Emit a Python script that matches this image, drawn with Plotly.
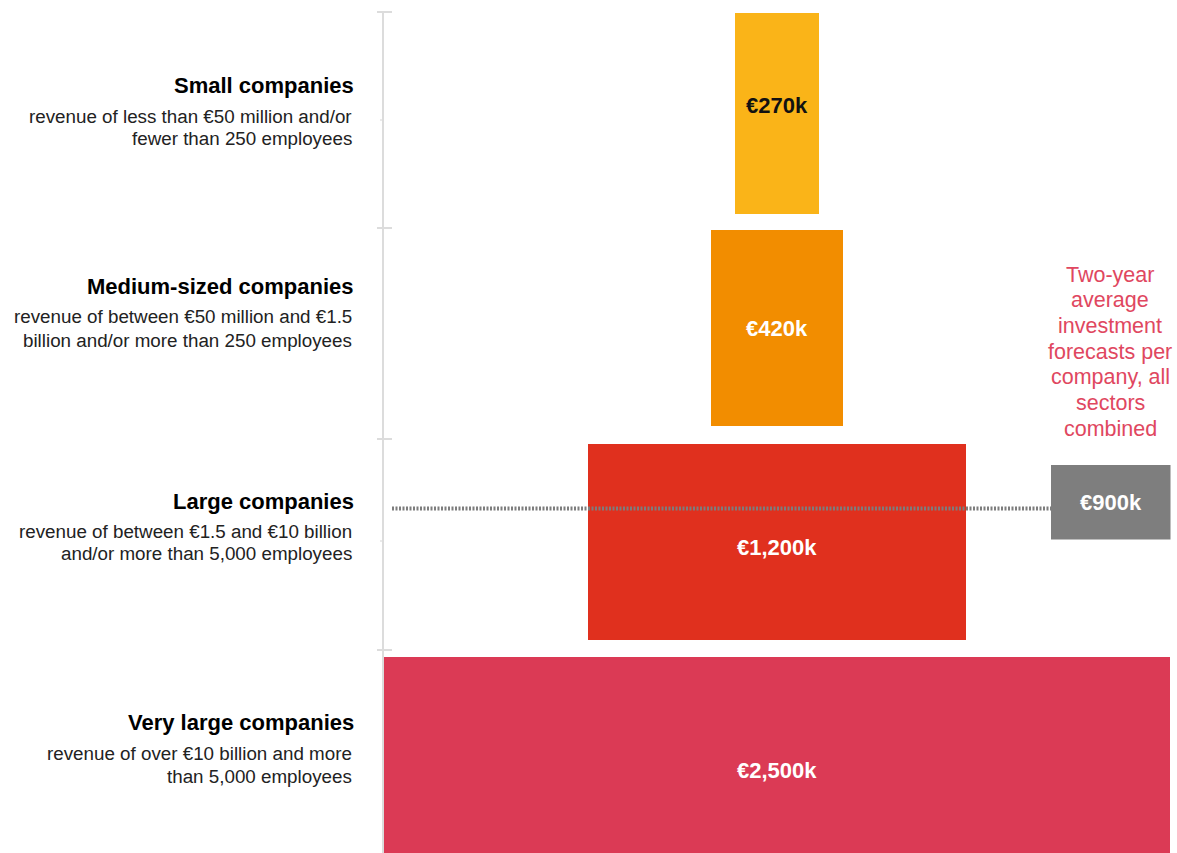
import plotly.graph_objects as go

# ---------------- data ----------------
categories = ["Small companies", "Medium-sized companies", "Large companies", "Very large companies"]
descriptions = [
    ["revenue of less than €50 million and/or", "fewer than 250 employees"],
    ["revenue of between €50 million and €1.5", "billion and/or more than 250 employees"],
    ["revenue of between €1.5 and €10 billion", "and/or more than 5,000 employees"],
    ["revenue of over €10 billion and more", "than 5,000 employees"],
]
values_k = [270, 420, 1200, 2500]
value_labels = ["€270k", "€420k", "€1,200k", "€2,500k"]
average_k = 900
average_label = "€900k"
note_lines = ["Two-year", "average", "investment", "forecasts per", "company, all", "sectors", "combined"]

# ---------------- style ----------------
W, H = 1177, 853
FONT = "Liberation Sans, Arial, Helvetica, sans-serif"
bar_colors = ["#FAB418", "#F28D00", "#E0301E", "#DB3A55"]
label_colors = ["#111111", "#FFFFFF", "#FFFFFF", "#FFFFFF"]
gray = "#7E7E7E"
note_color = "#E04760"
bar_thickness = [0.94, 0.915, 0.915, 0.925]

px_per_k = 786 / 2500.0
center_px = 777
x_range = [(0 - center_px) / px_per_k, (W - center_px) / px_per_k]
y_pos = [0, 1, 2, 3]
y_top_px, y_step_px = 113.5, 214.2
y_range = [(H - y_top_px) / y_step_px, (0 - y_top_px) / y_step_px]


def py(p):
    return 1 - p / H


def pxx(p):
    return p / W


fig = go.Figure()
fig.add_trace(go.Bar(
    orientation="h",
    y=y_pos,
    x=values_k,
    base=[-v / 2 for v in values_k],
    width=bar_thickness,
    marker=dict(color=bar_colors, line=dict(width=0)),
    hoverinfo="skip",
    showlegend=False,
))

annotations = []
# value labels in bars
value_shift = [8, -1, -6, -14]
for i, (lab, c) in enumerate(zip(value_labels, label_colors)):
    annotations.append(dict(x=0, y=y_pos[i], xref="x", yref="y", text="<b>%s</b>" % lab,
                            showarrow=False, yshift=value_shift[i],
                            font=dict(family=FONT, size=22, color=c)))

# left labels
title_y = [86, 286, 501, 722]
sub_y = [[116, 139], [317, 340], [531, 553], [753, 776]]
for i, cat in enumerate(categories):
    annotations.append(dict(x=pxx(356), y=py(title_y[i]), xref="paper", yref="paper",
                            xanchor="right", yanchor="middle", showarrow=False,
                            text="<b>%s</b>" % cat,
                            font=dict(family=FONT, size=22, color="#000000")))
    for line, yy in zip(descriptions[i], sub_y[i]):
        annotations.append(dict(x=pxx(354), y=py(yy), xref="paper", yref="paper",
                                xanchor="right", yanchor="middle", showarrow=False,
                                text=line, font=dict(family=FONT, size=18.8, color="#222222")))

# right note
note_y = [275, 300, 326, 352, 377, 403, 429]
for line, yy in zip(note_lines, note_y):
    annotations.append(dict(x=pxx(1110), y=py(yy), xref="paper", yref="paper",
                            xanchor="center", yanchor="middle", showarrow=False,
                            text=line, font=dict(family=FONT, size=21.5, color=note_color)))

# average box label
annotations.append(dict(x=pxx(1110.5), y=py(503), xref="paper", yref="paper",
                        xanchor="center", yanchor="middle", showarrow=False,
                        text="<b>%s</b>" % average_label,
                        font=dict(family=FONT, size=22, color="#FFFFFF")))

shapes = []
axis_col = "#DCDCDC"
shapes.append(dict(type="line", xref="paper", yref="paper", x0=pxx(383), x1=pxx(383),
                   y0=py(12), y1=py(H), line=dict(color=axis_col, width=2), layer="below"))
for t in [12, 228, 439, 650]:
    shapes.append(dict(type="line", xref="paper", yref="paper", x0=pxx(377), x1=pxx(392),
                       y0=py(t), y1=py(t), line=dict(color=axis_col, width=2), layer="below"))
for t in [120, 541]:
    shapes.append(dict(type="line", xref="paper", yref="paper", x0=pxx(380), x1=pxx(383),
                       y0=py(t), y1=py(t), line=dict(color=axis_col, width=1.2), layer="below"))
# average box
shapes.append(dict(type="rect", xref="paper", yref="paper", x0=pxx(1051), x1=pxx(1170.5),
                   y0=py(465), y1=py(539.5), fillcolor=gray, line=dict(width=0), layer="above"))
# dotted average line
shapes.append(dict(type="line", xref="paper", yref="paper", x0=pxx(392), x1=pxx(1051),
                   y0=py(508.5), y1=py(508.5),
                   line=dict(color="#7D7D7D", width=4, dash="2px,1.5px"), layer="above"))

fig.update_layout(
    width=W, height=H, autosize=False,
    margin=dict(l=0, r=0, t=0, b=0, pad=0),
    paper_bgcolor="white", plot_bgcolor="white",
    xaxis=dict(range=x_range, visible=False, fixedrange=True),
    yaxis=dict(range=y_range, visible=False, fixedrange=True),
    annotations=annotations,
    shapes=shapes,
    bargap=0,
)

fig.write_html("out.html", config={"displayModeBar": False})
